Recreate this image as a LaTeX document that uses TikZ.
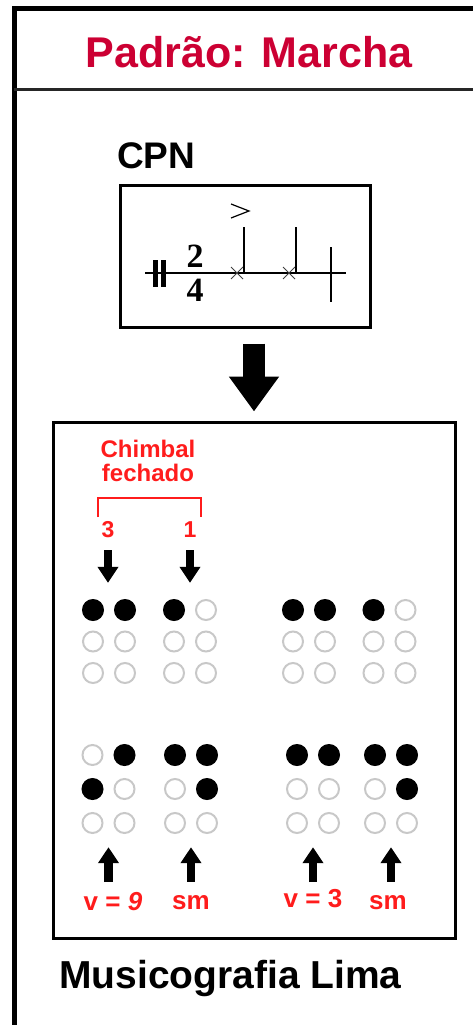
\documentclass[tikz,border=0pt]{standalone}
\usepackage{fontspec}
\setmainfont{Liberation Sans}
\newfontfamily\serifnum{Liberation Serif}
\usepackage{tikz}
\usetikzlibrary{arrows.meta,positioning,calc}
\definecolor{titlered}{RGB}{204,0,51}
\definecolor{notered}{RGB}{255,28,28}
\definecolor{dotgray}{RGB}{200,200,200}
\newcommand{\fsz}[1]{\fontsize{#1}{#1}\selectfont}

\begin{document}
\begin{tikzpicture}[
    x=1pt,y=-1pt,
    frameline/.style={line width=5pt,black},
    sepline/.style={line width=3pt,black!85},
    box/.style={rectangle,draw=black,line width=3pt,inner sep=0pt},
    heading/.style={font=\bfseries\fsz{43},text=titlered,inner sep=0pt,anchor=base},
    lbl/.style={font=\bfseries\fsz{37},inner sep=0pt,anchor=base west},
    redlbl/.style={font=\bfseries\fsz{26},text=notered,inner sep=0pt,anchor=base},
    dotfull/.style={circle,fill=black,minimum size=22pt,inner sep=0pt},
    dotempty/.style={circle,draw=dotgray,line width=2pt,minimum size=20pt,inner sep=0pt},
    cell/.style={rectangle,minimum width=54pt,inner sep=0pt},
    bigarr/.style={-{Triangle[width=48pt,length=35pt]},line width=22pt},
    smarr/.style={-{Triangle[width=20pt,length=16pt]},line width=8.5pt},
    bracket/.style={notered,line width=2pt},
    staff/.style={line width=1.2pt,black},
    tsig/.style={font=\serifnum\bfseries\fsz{34},inner sep=0pt,align=center},
]
\useasboundingbox (0,0) rectangle (472,1025);

% outer frame and title strip
\draw[frameline] (14.5,1040) |- (490,8.5);
\draw[sepline] (14,89.5) -- (490,89.5);
\node[heading] (title) at (249,67) {Padrão: Marcha};

% CPN notation
\node[lbl] (cpnlbl) at (117,168) {CPN};
\node[box,minimum width=250pt,minimum height=142pt] (cpn) at (245,256) {};
\draw[staff] (145,273) -- (346,273);
\fill (153,260) rectangle (157.5,287);
\fill (161,260) rectangle (165.5,287);
\node[tsig] (timesig) at (195,273) {\fontsize{34}{29}\selectfont 2\\4};
\draw[line width=1pt,black!75] (231,267) -- (243,279) (231,279) -- (243,267);
\draw[line width=1pt,black!75] (283,267) -- (295,279) (283,279) -- (295,267);
\draw[line width=1.5pt] (244,273) -- (244,227);
\draw[line width=1.5pt] (296,273) -- (296,227);
\draw[line width=1.2pt] (231,204) -- (249,211) -- (231,218);
\draw[line width=1.5pt] (331,247) -- (331,302);

% braille box
\node[box,minimum width=402pt,minimum height=516pt] (brl) at (254,680) {};
\draw[bigarr,shorten <=15pt,shorten >=9pt] (cpn.south -| brl.north) -- (brl.north);

\node[font=\bfseries\fsz{24},text=notered,inner sep=0pt,align=center,anchor=north] (chimbal) at (148,440)
  {\fontsize{24}{26}\selectfont Chimbal\\fechado};
\draw[bracket] (98,517) |- (201,498) -- (201,517);
\node[font=\bfseries\fsz{23},text=notered,inner sep=0pt,anchor=base] (three) at (108,537) {3};
\node[font=\bfseries\fsz{23},text=notered,inner sep=0pt,anchor=base] (one) at (190,537) {1};

% braille cells: empty dots first, filled dots on top
\foreach \nm/\cx/\cy/\dy in {ua/109/641.5/31.5, ub/190/641.5/31.5, uc/309/641.5/31.5, ud/389.5/641.5/31.5,
                             la/108.5/789/34, lb/191/789/34, lc/313/789/34, ld/391/789/34}{
  \node[cell,minimum height=2*\dy+22] (\nm) at (\cx,\cy) {};
  \foreach \d/\ox/\oy in {1/-1/-1,2/-1/0,3/-1/1,4/1/-1,5/1/0,6/1/1}
    \node[dotempty] (\nm\d) at (\cx+16*\ox,\cy+\dy*\oy) {};
}
\foreach \p in {ua1,ua4,ub1,uc1,uc4,ud1,la2,la4,lb1,lb4,lb5,lc1,lc4,ld1,ld4,ld5}
  \node[dotfull] (\p f) at (\p) {};

\draw[smarr,shorten <=13pt,shorten >=16pt] (three.south) -- (three.south |- ua.north);
\draw[smarr,shorten <=13pt,shorten >=16pt] (one.south) -- (one.south |- ub.north);

\node[redlbl] (vnine) at (113,910) {v = \textit{9}};
\node[redlbl] (smone) at (191,909) {sm};
\node[redlbl] (vthree) at (313,907) {v = 3};
\node[redlbl] (smtwo) at (388,909) {sm};
\draw[smarr,shorten <=9.5pt,shorten >=13pt] (la.south |- vnine.north) -- (la.south);
\draw[smarr,shorten <=13pt,shorten >=13pt] (lb.south |- smone.north) -- (lb.south);
\draw[smarr,shorten <=6.5pt,shorten >=13pt] (lc.south |- vthree.north) -- (lc.south);
\draw[smarr,shorten <=13pt,shorten >=13pt] (ld.south |- smtwo.north) -- (ld.south);

\node[lbl,font=\bfseries\fsz{39}] (lima) at (59,988) {Musicografia Lima};
\end{tikzpicture}
\end{document}
